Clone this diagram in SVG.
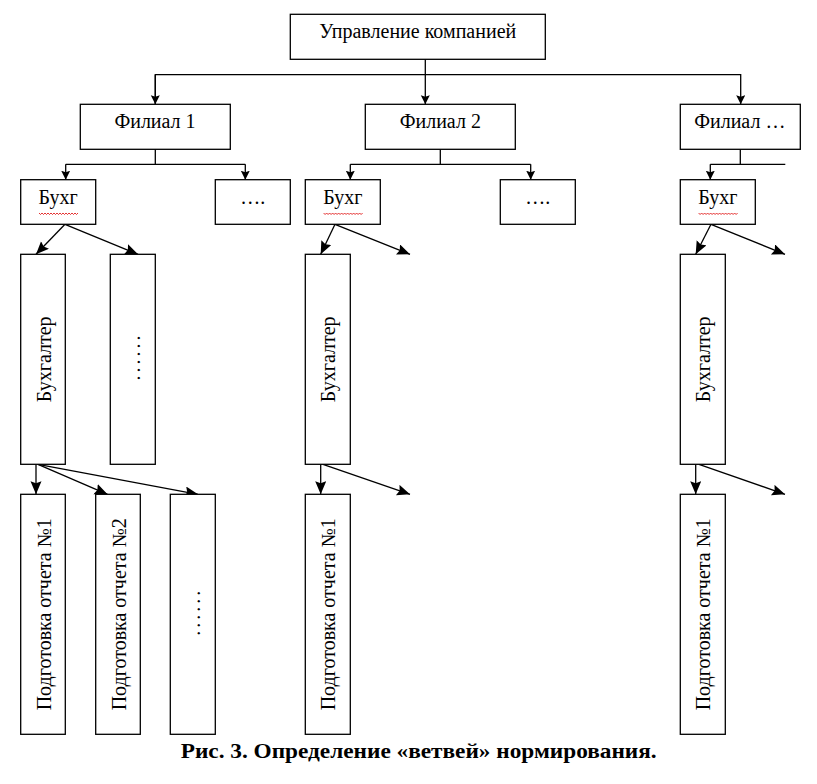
<svg xmlns="http://www.w3.org/2000/svg" width="817" height="784" viewBox="0 0 817 784">
<style>
.box{fill:#fff;stroke:#000;stroke-width:1.3}
.t{font-family:"Liberation Serif","Times New Roman",serif;font-size:20px;fill:#000}
.c{text-anchor:middle}
.dt{letter-spacing:3px}
.ln{fill:none;stroke:#000;stroke-width:1.3}
.sq{fill:none;stroke:#d00;stroke-width:0.8}
.cap{font-family:"Liberation Serif","Times New Roman",serif;font-size:22px;font-weight:bold;text-anchor:middle;fill:#000}
</style>
<defs>
<marker id="ah" markerUnits="userSpaceOnUse" markerWidth="12" markerHeight="12" refX="9" refY="4.5" orient="auto">
<path d="M0,0 L9,4.5 L0,9 L1.5,4.5 z" fill="#000"/>
</marker>
<marker id="ahb" markerUnits="userSpaceOnUse" markerWidth="16" markerHeight="14" refX="13" refY="5.5" orient="auto">
<path d="M0,0 L13,5.5 L0,11 L2,5.5 z" fill="#000"/>
</marker>
</defs>
<rect width="817" height="784" fill="#fff"/>

<g id="connectors">
<path class="ln" d="M425.3,59.3 V104.3" marker-end="url(#ah)"/>
<path class="ln" d="M155.3,104.3 V74.7 H740.7 V104.3" marker-end="url(#ah)"/>
<path class="ln" d="M155.3,74.7 V104.3" marker-end="url(#ah)"/>
<path class="ln" d="M155.3,149.3 V164.3 M65.7,164.3 H245.3"/>
<path class="ln" d="M65.7,164.3 V179.7" marker-end="url(#ah)"/>
<path class="ln" d="M245.3,164.3 V179.7" marker-end="url(#ah)"/>
<path class="ln" d="M440.3,149.3 V164.3 M350.3,164.3 H530.7"/>
<path class="ln" d="M350.3,164.3 V179.7" marker-end="url(#ah)"/>
<path class="ln" d="M530.7,164.3 V179.7" marker-end="url(#ah)"/>
<path class="ln" d="M740.3,149.3 V164.3 M710.3,164.3 H785.3"/>
<path class="ln" d="M710.3,164.3 V179.7" marker-end="url(#ah)"/>

<path class="ln" d="M65,224.3 L36,254.3" marker-end="url(#ahb)"/>
<path class="ln" d="M65,224.3 L138,254.3" marker-end="url(#ahb)"/>
<path class="ln" d="M335,224.3 L320.7,254.3" marker-end="url(#ahb)"/>
<path class="ln" d="M335,224.3 L410,254.3" marker-end="url(#ahb)"/>
<path class="ln" d="M711,224.3 L695.7,254.3" marker-end="url(#ahb)"/>
<path class="ln" d="M711,224.3 L785,254.3" marker-end="url(#ahb)"/>

<path class="ln" d="M36,464.3 V494.3" marker-end="url(#ahb)"/>
<path class="ln" d="M38,464.3 L107.5,494.3" marker-end="url(#ahb)"/>
<path class="ln" d="M38,464.3 L198,494.3" marker-end="url(#ahb)"/>
<path class="ln" d="M320.7,464.3 V494.3" marker-end="url(#ahb)"/>
<path class="ln" d="M323,464.3 L410,494.3" marker-end="url(#ahb)"/>
<path class="ln" d="M695.7,464.3 V494.3" marker-end="url(#ahb)"/>
<path class="ln" d="M699,464.3 L785,494.3" marker-end="url(#ahb)"/>
</g>

<g id="top">
<rect class="box" x="290.3" y="14.3" width="255" height="45"/>
<text class="t c" x="417.8" y="38.3">Управление компанией</text>
</g>

<g id="filial1">
<rect class="box" x="80.3" y="104.3" width="150" height="45"/>
<text class="t c" x="155" y="128.3">Филиал 1</text>
</g>
<g id="filial2">
<rect class="box" x="365.3" y="104.3" width="150" height="45"/>
<text class="t c" x="440.3" y="128.3">Филиал 2</text>
</g>
<g id="filial3">
<rect class="box" x="680.3" y="104.3" width="120" height="45"/>
<text class="t c" x="739.8" y="128.3">Филиал …</text>
</g>

<g id="buh1">
<rect class="box" x="20.7" y="179.7" width="75" height="44.6"/>
<text class="t c" x="58.2" y="203.7">Бухг</text>
<path class="sq" d="M39,213 l1.5,1.5 l1.5,-1.5 l1.5,1.5 l1.5,-1.5 l1.5,1.5 l1.5,-1.5 l1.5,1.5 l1.5,-1.5 l1.5,1.5 l1.5,-1.5 l1.5,1.5 l1.5,-1.5 l1.5,1.5 l1.5,-1.5 l1.5,1.5 l1.5,-1.5 l1.5,1.5 l1.5,-1.5 l1.5,1.5 l1.5,-1.5 l1.5,1.5 l1.5,-1.5 l1.5,1.5 l1.5,-1.5 l1.5,1.5 l1.5,-1.5"/>
</g>
<g id="dots1">
<rect class="box" x="215.3" y="179.7" width="75" height="44.6"/>
<text class="t c" x="252.8" y="203.7">….</text>
</g>
<g id="buh2">
<rect class="box" x="305.3" y="179.7" width="75" height="44.6"/>
<text class="t c" x="342.8" y="203.7">Бухг</text>
<path class="sq" d="M323.6,213 l1.5,1.5 l1.5,-1.5 l1.5,1.5 l1.5,-1.5 l1.5,1.5 l1.5,-1.5 l1.5,1.5 l1.5,-1.5 l1.5,1.5 l1.5,-1.5 l1.5,1.5 l1.5,-1.5 l1.5,1.5 l1.5,-1.5 l1.5,1.5 l1.5,-1.5 l1.5,1.5 l1.5,-1.5 l1.5,1.5 l1.5,-1.5 l1.5,1.5 l1.5,-1.5 l1.5,1.5 l1.5,-1.5 l1.5,1.5 l1.5,-1.5"/>
</g>
<g id="dots2">
<rect class="box" x="500.3" y="179.7" width="75" height="44.6"/>
<text class="t c" x="537.8" y="203.7">….</text>
</g>
<g id="buh3">
<rect class="box" x="680.3" y="179.7" width="75" height="44.6"/>
<text class="t c" x="717.8" y="203.7">Бухг</text>
<path class="sq" d="M698.6,213 l1.5,1.5 l1.5,-1.5 l1.5,1.5 l1.5,-1.5 l1.5,1.5 l1.5,-1.5 l1.5,1.5 l1.5,-1.5 l1.5,1.5 l1.5,-1.5 l1.5,1.5 l1.5,-1.5 l1.5,1.5 l1.5,-1.5 l1.5,1.5 l1.5,-1.5 l1.5,1.5 l1.5,-1.5 l1.5,1.5 l1.5,-1.5 l1.5,1.5 l1.5,-1.5 l1.5,1.5 l1.5,-1.5 l1.5,1.5 l1.5,-1.5"/>
</g>

<g id="accountant1">
<rect class="box" x="20.7" y="254.3" width="44.6" height="210"/>
<text class="t c" transform="translate(43,359.3) rotate(-90)" x="0" y="7.5">Бухгалтер</text>
</g>
<g id="accdots1">
<rect class="box" x="110.3" y="254.3" width="45" height="210"/>
<text class="t c dt" transform="translate(132.8,358) rotate(-90)" x="1.5" y="7">......</text>
</g>
<g id="accountant2">
<rect class="box" x="305.3" y="254.3" width="45" height="210"/>
<text class="t c" transform="translate(327.8,359.3) rotate(-90)" x="0" y="7.5">Бухгалтер</text>
</g>
<g id="accountant3">
<rect class="box" x="680.3" y="254.3" width="45" height="210"/>
<text class="t c" transform="translate(702.8,359.3) rotate(-90)" x="0" y="7.5">Бухгалтер</text>
</g>

<g id="report1a">
<rect class="box" x="20.7" y="494.3" width="44.6" height="240"/>
<text class="t c" transform="translate(43,614.3) rotate(-90)" x="0" y="7.5">Подготовка отчета №1</text>
</g>
<g id="report2a">
<rect class="box" x="95.7" y="494.3" width="44.6" height="240"/>
<text class="t c" transform="translate(118,614.3) rotate(-90)" x="0" y="7.5">Подготовка отчета №2</text>
</g>
<g id="reportdots">
<rect class="box" x="170.3" y="494.3" width="45" height="240"/>
<text class="t c dt" transform="translate(192.8,613.3) rotate(-90)" x="1.5" y="7">......</text>
</g>
<g id="report1b">
<rect class="box" x="305.3" y="494.3" width="45" height="240"/>
<text class="t c" transform="translate(327.8,614.3) rotate(-90)" x="0" y="7.5">Подготовка отчета №1</text>
</g>
<g id="report1c">
<rect class="box" x="680.3" y="494.3" width="45" height="240"/>
<text class="t c" transform="translate(702.8,614.3) rotate(-90)" x="0" y="7.5">Подготовка отчета №1</text>
</g>

<text class="cap" x="418.7" y="758" textLength="476" lengthAdjust="spacingAndGlyphs">Рис. 3. Определение «ветвей» нормирования.</text>
</svg>
